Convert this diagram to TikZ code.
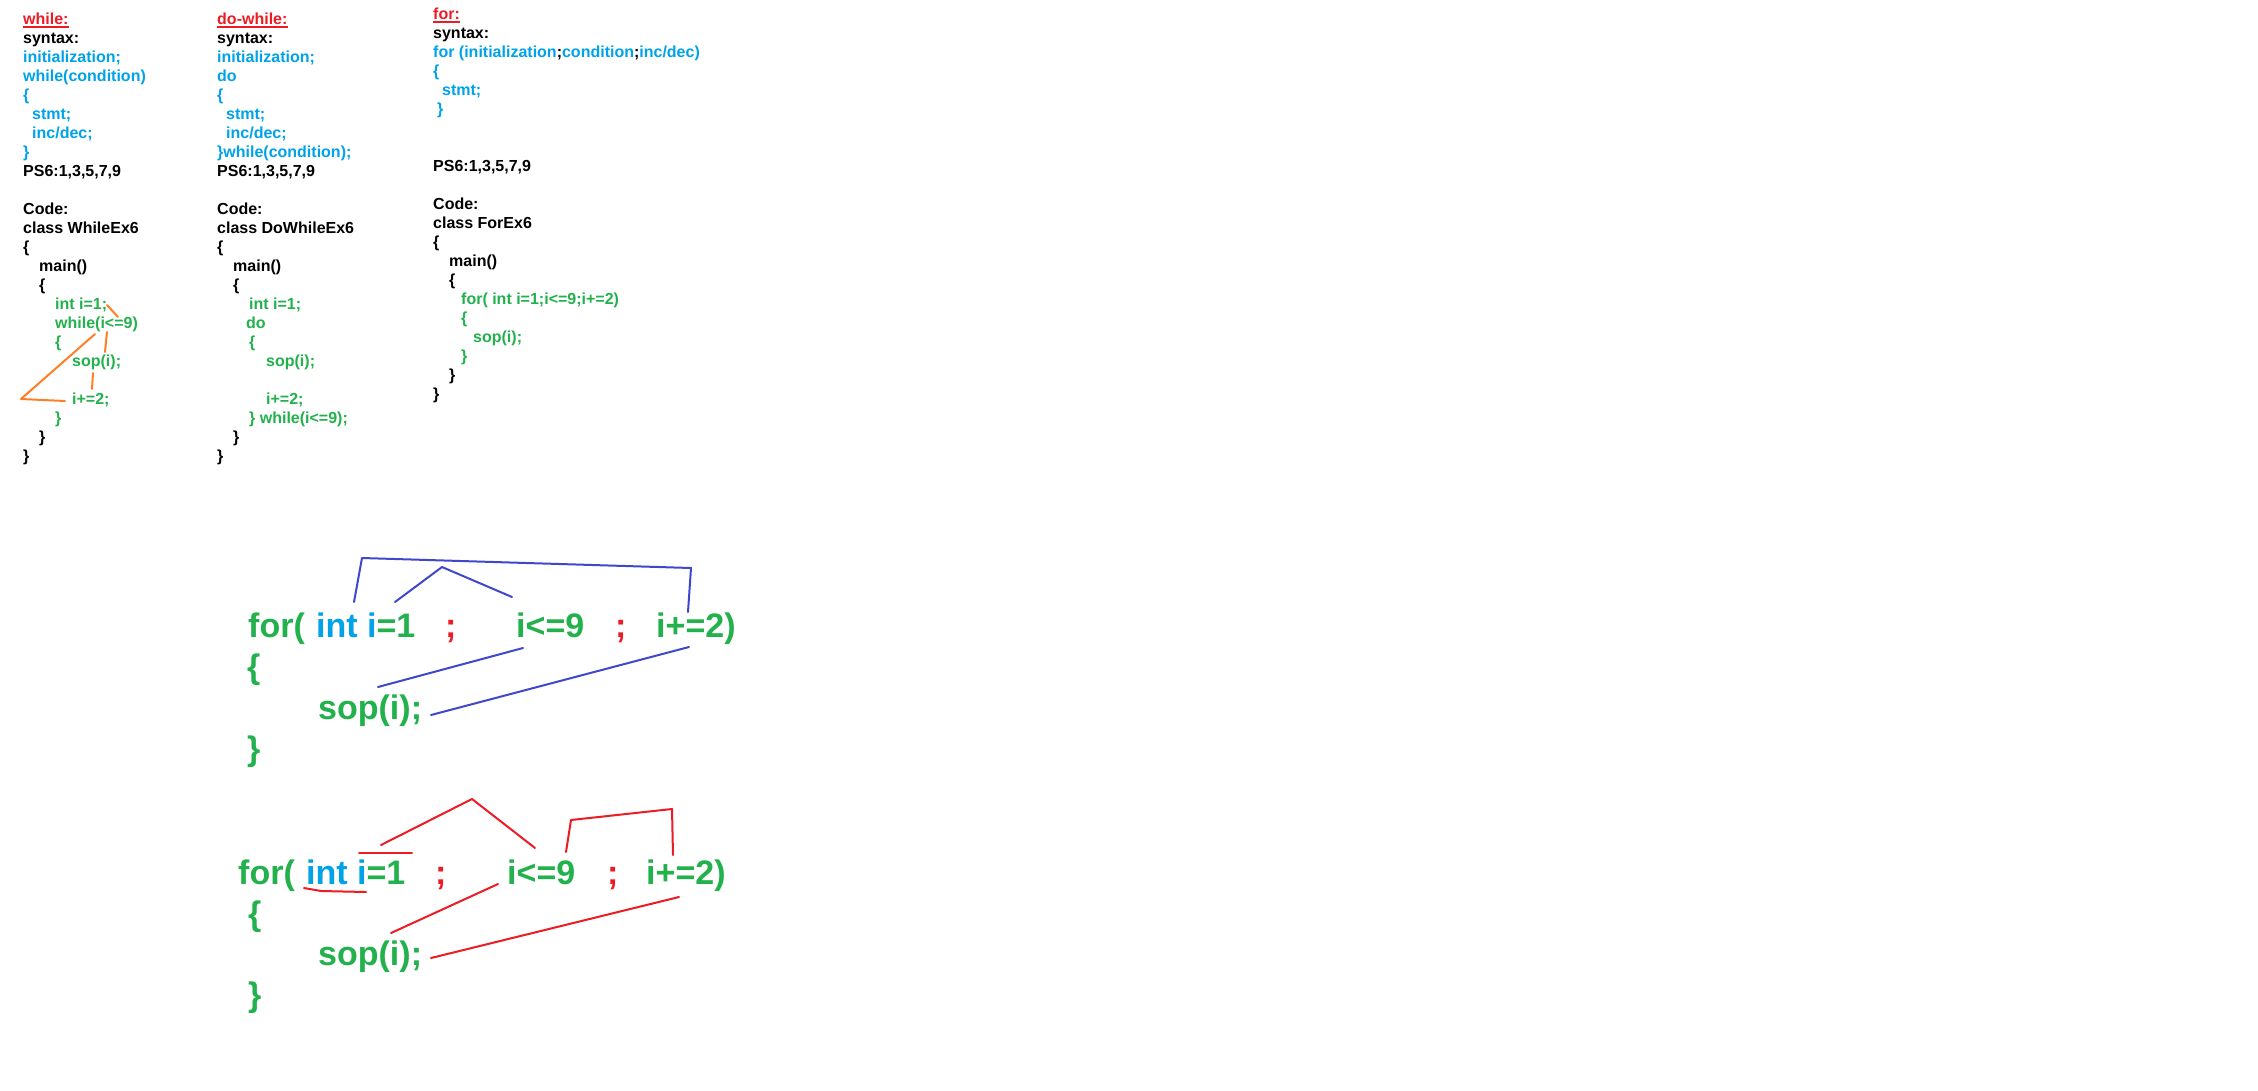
\documentclass[tikz,border=0pt]{standalone}
\usepackage{fontspec}
\setmainfont{Liberation Sans}
\usepackage{xcolor}
\definecolor{hdred}{RGB}{237,28,36}
\definecolor{cblue}{RGB}{0,162,232}
\definecolor{cgreen}{RGB}{34,177,76}
\definecolor{corange}{RGB}{255,127,39}
\definecolor{cindigo}{RGB}{63,72,204}
\newcommand{\blu}[1]{\textcolor{cblue}{#1}}
\newcommand{\grn}[1]{\textcolor{cgreen}{#1}}
\tikzset{
	col/.style={anchor=base west, inner sep=0pt, align=left,
			font=\fontsize{16}{19}\selectfont\bfseries},
	heading/.style={col, text=hdred},
	big/.style={anchor=base west, inner sep=0pt, text=cgreen,
			font=\fontsize{34}{40}\selectfont\bfseries},
	scribble/.style={line width=2pt, line cap=round, line join=round}
}

\begin{document}
\begin{tikzpicture}[x=1pt, y=-1pt]
	\useasboundingbox (0,0) rectangle (2258,1090);
	\fill[white] (0,0) rectangle (2258,1090);

	% Draw the headings and underline them
	\node[heading] (whilehd) at (23,24) {while:};
	\node[heading] (dohd) at (217,24) {do-while:};
	\node[heading] (forhd) at (433,19) {for:};
	\foreach \hd in {whilehd,dohd,forhd}
		\draw[hdred, line width=2pt] ([yshift=-2.5pt]\hd.base west) -- ([yshift=-2.5pt]\hd.base east);

	% Draw the while column (base is its last line)
	\node[col] (whilecol) at (23,461) {syntax:\\
		\blu{initialization;}\\
		\blu{while(condition)}\\
		\blu{\{}\\
		\hspace*{9pt}\blu{stmt;}\\
		\hspace*{9pt}\blu{inc/dec;}\\
		\blu{\}}\\
		PS6:1,3,5,7,9\\[19pt]
		Code:\\
		class WhileEx6\\
		\{\\
		\hspace*{16pt}main()\\
		\hspace*{16pt}\{\\
		\hspace*{32pt}\grn{int i=1;}\\
		\hspace*{32pt}\grn{while(i<=9)}\\
		\hspace*{32pt}\grn{\{}\\
		\hspace*{49pt}\grn{sop(i);}\\[19pt]
		\hspace*{49pt}\grn{i+=2;}\\
		\hspace*{32pt}\grn{\}}\\
		\hspace*{16pt}\}\\
		\}};

	% Draw the do-while column
	\node[col] (docol) at (217,461) {syntax:\\
		\blu{initialization;}\\
		\blu{do}\\
		\blu{\{}\\
		\hspace*{9pt}\blu{stmt;}\\
		\hspace*{9pt}\blu{inc/dec;}\\
		\blu{\}while(condition);}\\
		PS6:1,3,5,7,9\\[19pt]
		Code:\\
		class DoWhileEx6\\
		\{\\
		\hspace*{16pt}main()\\
		\hspace*{16pt}\{\\
		\hspace*{32pt}\grn{int i=1;}\\
		\hspace*{29pt}\grn{do}\\
		\hspace*{32pt}\grn{\{}\\
		\hspace*{49pt}\grn{sop(i);}\\[19pt]
		\hspace*{49pt}\grn{i+=2;}\\
		\hspace*{32pt}\grn{\} while(i<=9);}\\
		\hspace*{16pt}\}\\
		\}};

	% Draw the for column
	\node[col] (forcol) at (433,399) {syntax:\\
		\blu{for (initialization};\blu{condition};\blu{inc/dec)}\\
		\blu{\{}\\
		\hspace*{9pt}\blu{stmt;}\\
		\hspace*{4pt}\blu{\}}\\[38pt]
		PS6:1,3,5,7,9\\[19pt]
		Code:\\
		class ForEx6\\
		\{\\
		\hspace*{16pt}main()\\
		\hspace*{16pt}\{\\
		\hspace*{28pt}\grn{for( int i=1;i<=9;i+=2)}\\
		\hspace*{28pt}\grn{\{}\\
		\hspace*{40pt}\grn{sop(i);}\\
		\hspace*{28pt}\grn{\}}\\
		\hspace*{16pt}\}\\
		\}};

	% Draw the orange marks in the while code
	\draw[scribble, corange] (107,305) -- (118,317);
	\draw[scribble, corange] (95,334) -- (21,399) -- (65,401);
	\draw[scribble, corange] (107,332) -- (105,352);
	\draw[scribble, corange] (93,373) -- (92,389);

	% Draw the first big for loop
	\node[big] (forA) at (248,637) {for(};
	\node[big] (initA) at (316,637) {\blu{int i}=1};
	\node[big, text=hdred] (semiA1) at (445,637) {;};
	\node[big] (condA) at (516,637) {i<=9};
	\node[big, text=hdred] (semiA2) at (615,637) {;};
	\node[big] (incA) at (656,637) {i+=2)};
	\node[big] (openA) at (247,678) {\{};
	\node[big] (bodyA) at (318,719) {sop(i);};
	\node[big] (closeA) at (247,760) {\}};

	% Draw the blue marks
	\draw[scribble, cindigo] (354,602) -- (362,558) -- (691,568) -- (688,612);
	\draw[scribble, cindigo] (395,602) -- (442,567) -- (512,597);
	\draw[scribble, cindigo] (523,648) -- (378,687);
	\draw[scribble, cindigo] (689,647) -- (431,715);

	% Draw the second big for loop
	\node[big] (forB) at (238,884) {for(};
	\node[big] (initB) at (306,884) {\blu{int i}=1};
	\node[big, text=hdred] (semiB1) at (435,884) {;};
	\node[big] (condB) at (507,884) {i<=9};
	\node[big, text=hdred] (semiB2) at (607,884) {;};
	\node[big] (incB) at (646,884) {i+=2)};
	\node[big] (openB) at (248,925) {\{};
	\node[big] (bodyB) at (318,965) {sop(i);};
	\node[big] (closeB) at (248,1006) {\}};

	% Draw the red marks
	\draw[scribble, hdred] (304,888) -- (321,891) -- (366,892);
	\draw[scribble, hdred] (359,853) -- (412,853);
	\draw[scribble, hdred] (381,845) -- (472,799) -- (535,848);
	\draw[scribble, hdred] (566,852) -- (571,820) -- (672,809) -- (673,855);
	\draw[scribble, hdred] (498,884) -- (391,933);
	\draw[scribble, hdred] (679,897) -- (431,958);
\end{tikzpicture}
\end{document}
